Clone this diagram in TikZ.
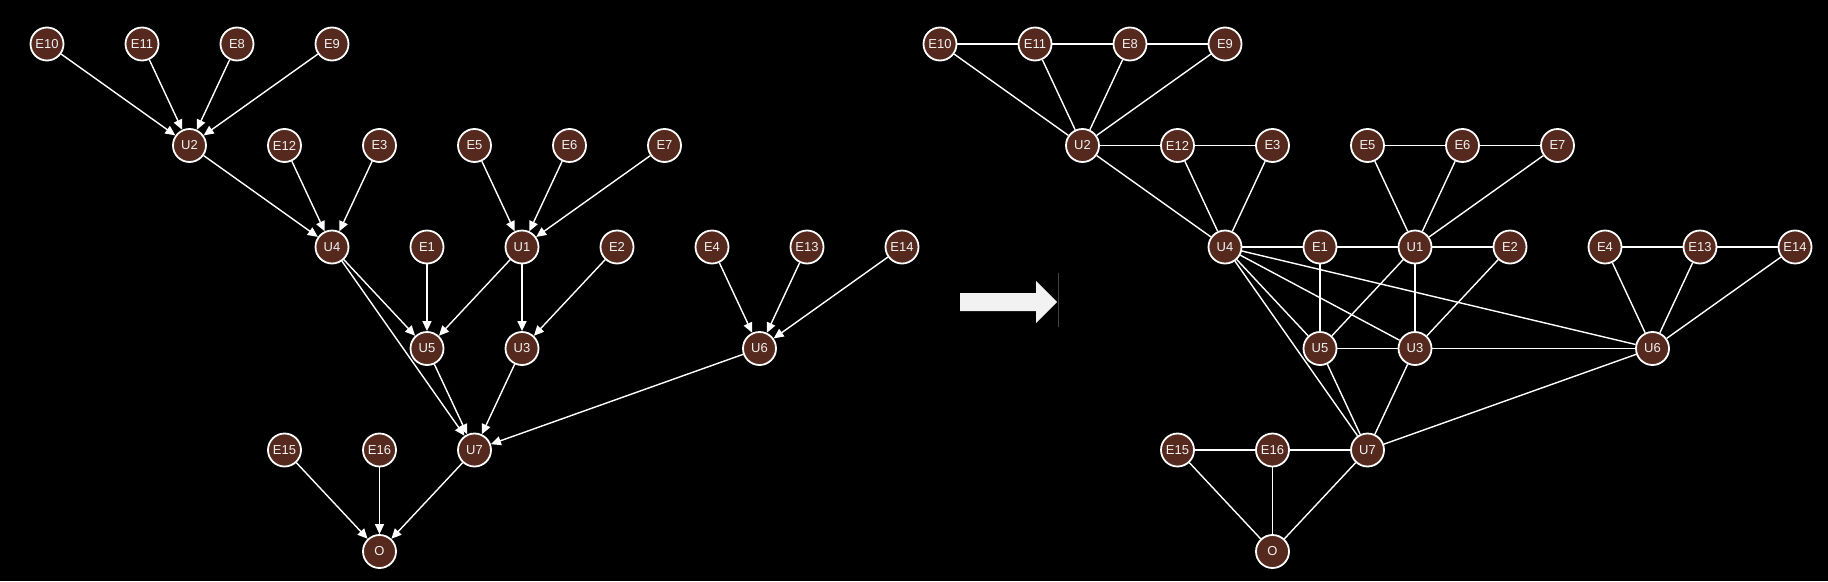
\documentclass[tikz,border=0pt]{standalone}
\usepackage{fontspec}
\setmainfont{Liberation Sans}
\usetikzlibrary{arrows.meta}
\definecolor{nodebrown}{RGB}{85,41,29}
\definecolor{paleline}{RGB}{242,242,242}

\begin{document}
\begin{tikzpicture}[x=1pt, y=-1pt,
    var/.style={circle, draw=white, line width=1.8pt, fill=nodebrown, text=paleline,
      minimum size=33pt, inner sep=0pt, font=\fontsize{13}{13}\selectfont},
    arc/.style={draw=white, line width=1.4pt, -{Triangle[length=10pt,width=9pt]}},
    link/.style={draw=white, line width=1.4pt}]
  \fill[black] (0,0) rectangle (1828,581);

  % directed graph
  \node[var] (E10) at (47,44) {E10};
  \node[var] (E11) at (142,44) {E11};
  \node[var] (E8) at (237,44) {E8};
  \node[var] (E9) at (332,44) {E9};
  \node[var] (U2) at (189.5,145.5) {U2};
  \node[var] (E12) at (284.5,145.5) {E12};
  \node[var] (E3) at (379.5,145.5) {E3};
  \node[var] (E5) at (474.5,145.5) {E5};
  \node[var] (E6) at (569.5,145.5) {E6};
  \node[var] (E7) at (664.5,145.5) {E7};
  \node[var] (U4) at (332,247) {U4};
  \node[var] (E1) at (427,247) {E1};
  \node[var] (U1) at (522,247) {U1};
  \node[var] (E2) at (617,247) {E2};
  \node[var] (E4) at (712,247) {E4};
  \node[var] (E13) at (807,247) {E13};
  \node[var] (E14) at (902,247) {E14};
  \node[var] (U5) at (427,348.5) {U5};
  \node[var] (U3) at (522,348.5) {U3};
  \node[var] (U6) at (759.5,348.5) {U6};
  \node[var] (E15) at (284.5,450) {E15};
  \node[var] (E16) at (379.5,450) {E16};
  \node[var] (U7) at (474.5,450) {U7};
  \node[var] (O) at (379.5,551.5) {O};

  \draw[arc] (E10) -- (U2);
  \draw[arc] (E11) -- (U2);
  \draw[arc] (E8) -- (U2);
  \draw[arc] (E9) -- (U2);
  \draw[arc] (U2) -- (U4);
  \draw[arc] (E12) -- (U4);
  \draw[arc] (E3) -- (U4);
  \draw[arc] (E5) -- (U1);
  \draw[arc] (E6) -- (U1);
  \draw[arc] (E7) -- (U1);
  \draw[arc] (U4) -- (U5);
  \draw[arc] (E1) -- (U5);
  \draw[arc] (U1) -- (U5);
  \draw[arc] (U1) -- (U3);
  \draw[arc] (E2) -- (U3);
  \draw[arc] (E4) -- (U6);
  \draw[arc] (E13) -- (U6);
  \draw[arc] (E14) -- (U6);
  \draw[arc] (U4) -- (U7);
  \draw[arc] (U5) -- (U7);
  \draw[arc] (U3) -- (U7);
  \draw[arc] (U6) -- (U7);
  \draw[arc] (E15) -- (O);
  \draw[arc] (E16) -- (O);
  \draw[arc] (U7) -- (O);

  % big arrow
  \fill[paleline] (960,293) -- (1036,293) -- (1036,281) -- (1057,302)
    -- (1036,323) -- (1036,311) -- (960,311) -- cycle;
  \draw[black!75!white, line width=0.8pt] (1058.5,273) -- (1058.5,327);

  % moral graph
  \node[var] (mE10) at (940,44) {E10};
  \node[var] (mE11) at (1035,44) {E11};
  \node[var] (mE8) at (1130,44) {E8};
  \node[var] (mE9) at (1225,44) {E9};
  \node[var] (mU2) at (1082.5,145.5) {U2};
  \node[var] (mE12) at (1177.5,145.5) {E12};
  \node[var] (mE3) at (1272.5,145.5) {E3};
  \node[var] (mE5) at (1367.5,145.5) {E5};
  \node[var] (mE6) at (1462.5,145.5) {E6};
  \node[var] (mE7) at (1557.5,145.5) {E7};
  \node[var] (mU4) at (1225,247) {U4};
  \node[var] (mE1) at (1320,247) {E1};
  \node[var] (mU1) at (1415,247) {U1};
  \node[var] (mE2) at (1510,247) {E2};
  \node[var] (mE4) at (1605,247) {E4};
  \node[var] (mE13) at (1700,247) {E13};
  \node[var] (mE14) at (1795,247) {E14};
  \node[var] (mU5) at (1320,348.5) {U5};
  \node[var] (mU3) at (1415,348.5) {U3};
  \node[var] (mU6) at (1652.5,348.5) {U6};
  \node[var] (mE15) at (1177.5,450) {E15};
  \node[var] (mE16) at (1272.5,450) {E16};
  \node[var] (mU7) at (1367.5,450) {U7};
  \node[var] (mO) at (1272.5,551.5) {O};

  \draw[link] (mE10) -- (mE11);
  \draw[link] (mE11) -- (mE8);
  \draw[link] (mE8) -- (mE9);
  \draw[link] (mE10) -- (mU2);
  \draw[link] (mE11) -- (mU2);
  \draw[link] (mE8) -- (mU2);
  \draw[link] (mE9) -- (mU2);
  \draw[link] (mU2) -- (mE12);
  \draw[link] (mE12) -- (mE3);
  \draw[link] (mU2) -- (mU4);
  \draw[link] (mE12) -- (mU4);
  \draw[link] (mE3) -- (mU4);
  \draw[link] (mE5) -- (mE6);
  \draw[link] (mE6) -- (mE7);
  \draw[link] (mE5) -- (mU1);
  \draw[link] (mE6) -- (mU1);
  \draw[link] (mE7) -- (mU1);
  \draw[link] (mU4) -- (mE1);
  \draw[link] (mE1) -- (mU1);
  \draw[link] (mU1) -- (mE2);
  \draw[link] (mU4) -- (mU5);
  \draw[link] (mE1) -- (mU5);
  \draw[link] (mU1) -- (mU5);
  \draw[link] (mU1) -- (mU3);
  \draw[link] (mE2) -- (mU3);
  \draw[link] (mE4) -- (mE13);
  \draw[link] (mE13) -- (mE14);
  \draw[link] (mE4) -- (mU6);
  \draw[link] (mE13) -- (mU6);
  \draw[link] (mE14) -- (mU6);
  \draw[link] (mU4) -- (mU3);
  \draw[link] (mU4) -- (mU6);
  \draw[link] (mU5) -- (mU3);
  \draw[link] (mU3) -- (mU6);
  \draw[link] (mU4) -- (mU7);
  \draw[link] (mU5) -- (mU7);
  \draw[link] (mU3) -- (mU7);
  \draw[link] (mU6) -- (mU7);
  \draw[link] (mE15) -- (mE16);
  \draw[link] (mE16) -- (mU7);
  \draw[link] (mE15) -- (mO);
  \draw[link] (mE16) -- (mO);
  \draw[link] (mU7) -- (mO);
\end{tikzpicture}
\end{document}
